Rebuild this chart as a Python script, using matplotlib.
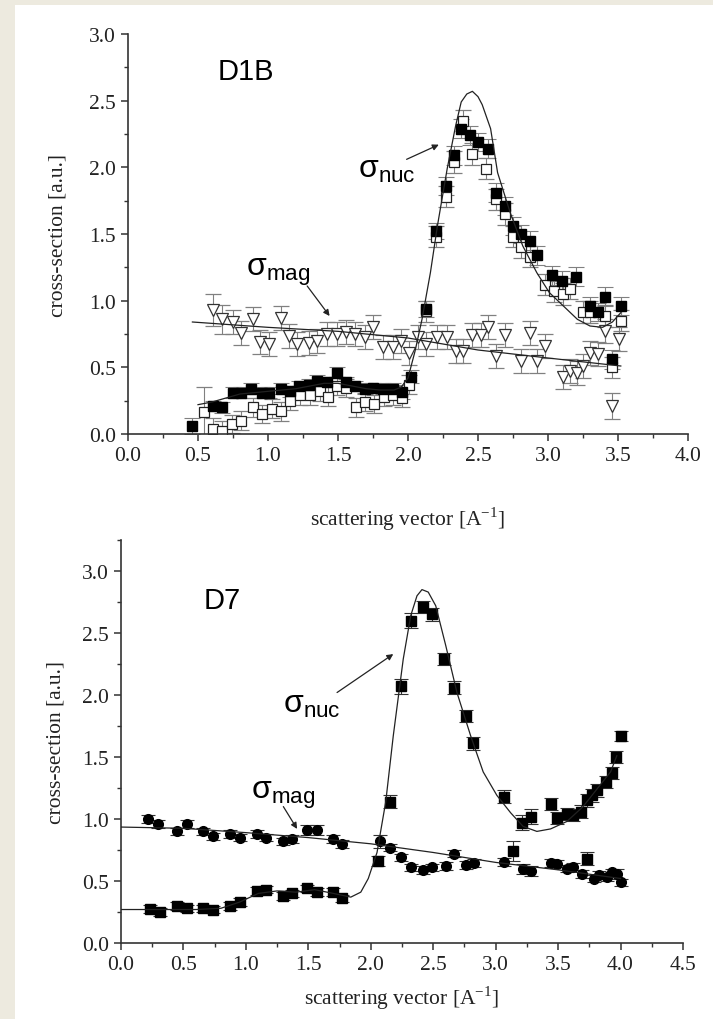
import numpy as np
import matplotlib.pyplot as plt
from matplotlib.patches import Rectangle
from matplotlib.ticker import MultipleLocator, FormatStrFormatter

# ---- D1B data ----
d1b_full_q = [0.46, 0.61, 0.67, 0.75, 0.81, 0.88, 0.96, 1.01, 1.09, 1.16, 1.22, 1.29, 1.35, 1.42,
              1.49, 1.56, 1.62, 1.69, 1.75, 1.82, 1.89, 1.96, 2.02, 2.13, 2.20, 2.27, 2.33, 2.38,
              2.44, 2.50, 2.57, 2.63, 2.69, 2.75, 2.81, 2.87, 2.92, 3.03, 3.10, 3.20, 3.30, 3.36,
              3.41, 3.46, 3.52]
d1b_full_v = [0.06, 0.21, 0.20, 0.31, 0.31, 0.34, 0.31, 0.31, 0.34, 0.32, 0.36, 0.37, 0.40, 0.39,
              0.46, 0.39, 0.36, 0.34, 0.345, 0.34, 0.34, 0.315, 0.43, 0.94, 1.52, 1.86, 2.09, 2.29,
              2.24, 2.19, 2.14, 1.81, 1.71, 1.56, 1.50, 1.45, 1.34, 1.19, 1.15, 1.18, 0.96, 0.915,
              1.03, 0.56, 0.96]
d1b_full_e = [0.06, 0.04, 0.04, 0.04, 0.04, 0.04, 0.04, 0.04, 0.04, 0.04, 0.04, 0.04, 0.04, 0.04,
              0.04, 0.04, 0.04, 0.04, 0.04, 0.04, 0.04, 0.05, 0.05, 0.06, 0.06, 0.07, 0.07, 0.07,
              0.07, 0.07, 0.07, 0.07, 0.07, 0.07, 0.07, 0.07, 0.07, 0.07, 0.07, 0.07, 0.07, 0.07,
              0.07, 0.07, 0.07]

d1b_open_q = [0.54, 0.61, 0.67, 0.74, 0.81, 0.89, 0.96, 1.03, 1.09, 1.16, 1.23, 1.30, 1.37, 1.43,
              1.49, 1.56, 1.63, 1.69, 1.76, 1.83, 1.89, 1.96, 2.01, 2.13, 2.20, 2.27, 2.33, 2.39,
              2.46, 2.56, 2.63, 2.69, 2.75, 2.81, 2.87, 2.98, 3.04, 3.11, 3.16, 3.25, 3.30, 3.41,
              3.46, 3.52]
d1b_open_v = [0.165, 0.04, 0.02, 0.075, 0.10, 0.20, 0.15, 0.19, 0.17, 0.25, 0.29, 0.29, 0.32, 0.28,
              0.36, 0.345, 0.20, 0.24, 0.225, 0.28, 0.29, 0.27, 0.37, 0.92, 1.48, 1.78, 2.04, 2.35,
              2.10, 1.99, 1.76, 1.65, 1.48, 1.40, 1.33, 1.12, 1.07, 1.05, 1.09, 0.915, 0.915, 0.885,
              0.50, 0.85]
d1b_open_e = [0.19, 0.08, 0.08, 0.07, 0.07, 0.07, 0.07, 0.07, 0.07, 0.07, 0.07, 0.07, 0.07, 0.07,
              0.07, 0.07, 0.07, 0.07, 0.07, 0.07, 0.07, 0.07, 0.07, 0.08, 0.08, 0.08, 0.08, 0.08,
              0.08, 0.08, 0.08, 0.08, 0.08, 0.08, 0.08, 0.08, 0.08, 0.08, 0.08, 0.08, 0.08, 0.08,
              0.08, 0.08]

d1b_mag_q = [0.61, 0.67, 0.75, 0.81, 0.89, 0.94, 1.01, 1.09, 1.15, 1.21, 1.29, 1.35, 1.42, 1.49,
             1.56, 1.62, 1.69, 1.75, 1.82, 1.89, 1.95, 2.01, 2.07, 2.13, 2.21, 2.28, 2.34, 2.39,
             2.46, 2.52, 2.57, 2.63, 2.69, 2.81, 2.87, 2.92, 2.98, 3.11, 3.16, 3.21, 3.25, 3.30,
             3.36, 3.41, 3.46, 3.51]
d1b_mag_v = [0.93, 0.86, 0.84, 0.76, 0.86, 0.69, 0.675, 0.87, 0.735, 0.675, 0.68, 0.70, 0.75, 0.75,
             0.765, 0.75, 0.73, 0.80, 0.65, 0.65, 0.70, 0.61, 0.73, 0.675, 0.73, 0.73, 0.62, 0.62,
             0.74, 0.74, 0.80, 0.585, 0.74, 0.55, 0.76, 0.55, 0.66, 0.43, 0.47, 0.46, 0.51, 0.61,
             0.60, 0.77, 0.21, 0.71]
d1b_mag_e = [0.12, 0.11, 0.09, 0.09, 0.09, 0.09, 0.09, 0.09, 0.09, 0.09, 0.09, 0.09, 0.09, 0.09,
             0.09, 0.09, 0.09, 0.09, 0.09, 0.09, 0.09, 0.09, 0.09, 0.09, 0.09, 0.09, 0.09, 0.09,
             0.09, 0.09, 0.09, 0.09, 0.09, 0.09, 0.09, 0.09, 0.09, 0.09, 0.09, 0.09, 0.09, 0.09,
             0.09, 0.09, 0.10, 0.09]

d1b_fit_q = [0.50, 0.60, 0.70, 0.80, 0.90, 1.00, 1.10, 1.20, 1.30, 1.40, 1.50, 1.60, 1.70, 1.80,
             1.90, 1.95, 2.00, 2.05, 2.10, 2.16, 2.21, 2.28, 2.34, 2.38, 2.42, 2.46, 2.50, 2.53,
             2.59, 2.64, 2.73, 2.82, 2.92, 3.01, 3.11, 3.21, 3.30, 3.39, 3.46, 3.52]
d1b_fit_v = [0.22, 0.24, 0.27, 0.30, 0.31, 0.32, 0.33, 0.34, 0.36, 0.38, 0.38, 0.36, 0.34, 0.33,
             0.33, 0.35, 0.42, 0.62, 0.86, 1.21, 1.56, 1.99, 2.31, 2.49, 2.55, 2.57, 2.53, 2.47,
             2.29, 1.96, 1.66, 1.41, 1.21, 1.06, 0.96, 0.86, 0.81, 0.80, 0.84, 0.91]

d1b_magfit_q = [0.46, 1.0, 1.5, 2.0, 2.5, 3.0, 3.52]
d1b_magfit_v = [0.84, 0.80, 0.77, 0.72, 0.63, 0.57, 0.51]

# ---- D7 data ----
d7_mag_q = [0.22, 0.30, 0.45, 0.53, 0.66, 0.74, 0.87, 0.95, 1.09, 1.16, 1.30, 1.37, 1.49, 1.57,
            1.70, 1.77, 2.07, 2.15, 2.24, 2.32, 2.42, 2.49, 2.60, 2.67, 2.76, 2.83, 3.07, 3.22,
            3.28, 3.44, 3.49, 3.57, 3.62, 3.69, 3.79, 3.83, 3.89, 3.93, 3.97, 4.00]
d7_mag_v = [1.00, 0.96, 0.90, 0.96, 0.90, 0.86, 0.88, 0.85, 0.88, 0.85, 0.82, 0.84, 0.91, 0.91,
            0.84, 0.80, 0.82, 0.77, 0.69, 0.61, 0.59, 0.61, 0.62, 0.72, 0.63, 0.645, 0.655, 0.60,
            0.58, 0.645, 0.64, 0.60, 0.615, 0.555, 0.52, 0.55, 0.53, 0.57, 0.555, 0.49]
d7_mag_e = [0.03, 0.03, 0.03, 0.03, 0.03, 0.03, 0.03, 0.03, 0.03, 0.03, 0.03, 0.03, 0.04, 0.04,
            0.03, 0.03, 0.05, 0.03, 0.03, 0.03, 0.03, 0.03, 0.03, 0.03, 0.03, 0.03, 0.03, 0.04,
            0.04, 0.03, 0.03, 0.03, 0.03, 0.03, 0.03, 0.03, 0.03, 0.03, 0.04, 0.03]

d7_nuc_q = [0.23, 0.31, 0.45, 0.53, 0.66, 0.74, 0.87, 0.95, 1.09, 1.16, 1.30, 1.37, 1.49, 1.57,
            1.70, 1.77, 2.06, 2.15, 2.24, 2.32, 2.42, 2.49, 2.59, 2.67, 2.76, 2.82, 3.07, 3.14,
            3.21, 3.28, 3.44, 3.49, 3.57, 3.62, 3.68, 3.73, 3.73, 3.77, 3.81, 3.88, 3.93, 3.96, 4.00]
d7_nuc_v = [0.275, 0.25, 0.30, 0.28, 0.28, 0.27, 0.30, 0.33, 0.42, 0.43, 0.38, 0.40, 0.44, 0.41,
            0.41, 0.36, 0.66, 1.14, 2.07, 2.60, 2.71, 2.65, 2.29, 2.06, 1.83, 1.61, 1.18, 0.74,
            0.97, 1.02, 1.12, 1.01, 1.04, 1.03, 1.06, 1.15, 0.68, 1.19, 1.23, 1.30, 1.37, 1.50, 1.67]
d7_nuc_e = [0.03, 0.03, 0.03, 0.03, 0.03, 0.03, 0.03, 0.03, 0.03, 0.03, 0.03, 0.03, 0.03, 0.03,
            0.03, 0.03, 0.04, 0.05, 0.06, 0.06, 0.05, 0.05, 0.05, 0.05, 0.05, 0.05, 0.05, 0.08,
            0.06, 0.06, 0.05, 0.05, 0.05, 0.05, 0.05, 0.05, 0.05, 0.05, 0.05, 0.05, 0.05, 0.05, 0.04]

d7_fit_q = [0.0, 0.30, 0.60, 0.80, 0.95, 1.10, 1.25, 1.40, 1.55, 1.70, 1.84, 1.92, 1.98, 2.05,
            2.12, 2.18, 2.26, 2.32, 2.37, 2.41, 2.46, 2.52, 2.60, 2.69, 2.80, 2.90, 3.01, 3.12,
            3.22, 3.33, 3.44, 3.57, 3.70, 3.81, 3.92, 3.97]
d7_fit_v = [0.27, 0.27, 0.27, 0.28, 0.33, 0.40, 0.42, 0.41, 0.43, 0.40, 0.37, 0.41, 0.52, 0.73,
            1.14, 1.67, 2.29, 2.64, 2.80, 2.85, 2.83, 2.72, 2.40, 2.02, 1.67, 1.38, 1.19, 1.05,
            0.94, 0.90, 0.92, 0.98, 1.10, 1.24, 1.38, 1.51]

d7_magfit_q = [0.0, 0.5, 1.0, 1.5, 2.0, 2.5, 3.0, 3.5, 4.0]
d7_magfit_v = [0.935, 0.925, 0.89, 0.85, 0.80, 0.73, 0.65, 0.59, 0.52]

plt.rcParams['font.family'] = ['Liberation Serif', 'DejaVu Serif']

fig = plt.figure(figsize=(7.13, 10.2), dpi=100)
fig.patch.set_facecolor('#edeadf')
fig.patches.append(Rectangle((15 / 713, 0), 698 / 713, 1014 / 1020, transform=fig.transFigure,
                             facecolor='white', edgecolor='none', zorder=-1))

ax1 = fig.add_axes([128 / 713, 1 - 435 / 1020, 560 / 713, 400 / 1020])
ax2 = fig.add_axes([121 / 713, 1 - 944 / 1020, 562 / 713, 403 / 1020])


def style(ax, xmax, ymax):
    ax.set_xlim(0, xmax)
    ax.set_ylim(0, ymax)
    ax.set_facecolor('none')
    for s in ['top', 'right']:
        ax.spines[s].set_visible(False)
    for s in ['left', 'bottom']:
        ax.spines[s].set_linewidth(1.2)
        ax.spines[s].set_color('#333333')
    ax.xaxis.set_major_locator(MultipleLocator(0.5))
    ax.xaxis.set_minor_locator(MultipleLocator(0.25))
    ax.yaxis.set_major_locator(MultipleLocator(0.5))
    ax.yaxis.set_minor_locator(MultipleLocator(0.25))
    ax.xaxis.set_major_formatter(FormatStrFormatter('%.1f'))
    ax.yaxis.set_major_formatter(FormatStrFormatter('%.1f'))
    ax.tick_params(which='major', direction='out', length=5, width=1.1, color='#333333',
                   labelsize=15.5, labelcolor='#222222')
    ax.tick_params(which='minor', direction='out', length=3, width=1.0, color='#333333')
    ax.set_ylabel('cross-section [a.u.]', fontsize=15.5, color='#222222')
    ax.set_xlabel(r'scattering vector [A$^{\mathregular{-1}}$]', fontsize=15.5, color='#222222')


style(ax1, 4.0, 3.0)
style(ax2, 4.5, 3.25)
ax1.yaxis.set_label_coords(-0.108, 0.5)
ax1.xaxis.set_label_coords(0.5, -0.175)
ax2.yaxis.set_label_coords(-0.098, 0.5)
ax2.xaxis.set_label_coords(0.5, -0.1)

# D1B
eb = dict(elinewidth=0.8, capsize=6, capthick=0.8, ecolor='#808080', linestyle='none')
ax1.errorbar(d1b_mag_q, d1b_mag_v, yerr=d1b_mag_e, fmt='v', ms=8, mfc='white', mec='#333333',
             mew=0.9, **eb)
ax1.errorbar(d1b_open_q, d1b_open_v, yerr=d1b_open_e, fmt='s', ms=7, mfc='white', mec='#222222',
             mew=0.9, **eb)
ax1.errorbar(d1b_full_q, d1b_full_v, yerr=d1b_full_e, fmt='s', ms=7, mfc='black', mec='black',
             **eb)
ax1.plot(d1b_fit_q, d1b_fit_v, color='#222222', lw=0.9, zorder=4)
ax1.plot(d1b_magfit_q, d1b_magfit_v, color='#222222', lw=0.9, zorder=4)

ax1.text(0.64, 2.72, 'D1B', fontsize=21, family='Liberation Sans', va='center')
ax1.text(1.64, 1.93, r'$\mathregular{\sigma_{nuc}}$', fontsize=23, family='Liberation Sans')
ax1.text(0.84, 1.19, r'$\mathregular{\sigma_{mag}}$', fontsize=23, family='Liberation Sans')
arr = dict(arrowstyle='-|>', lw=0.9, color='#222222', mutation_scale=9, shrinkA=0, shrinkB=0)
ax1.annotate('', xy=(2.22, 2.17), xytext=(1.99, 2.06), arrowprops=arr)
ax1.annotate('', xy=(1.44, 0.885), xytext=(1.28, 1.11), arrowprops=arr)

# D7
eb2 = dict(elinewidth=0.8, capsize=5, capthick=0.8, ecolor='#333333', linestyle='none')
ax2.errorbar(d7_mag_q, d7_mag_v, yerr=d7_mag_e, fmt='o', ms=7, mfc='black', mec='black', **eb2)
ax2.errorbar(d7_nuc_q, d7_nuc_v, yerr=d7_nuc_e, fmt='s', ms=7, mfc='black', mec='black', **eb2)
ax2.plot(d7_fit_q, d7_fit_v, color='#222222', lw=0.9, zorder=4)
ax2.plot(d7_magfit_q, d7_magfit_v, color='#222222', lw=0.9, zorder=4)

ax2.text(0.66, 2.77, 'D7', fontsize=21, family='Liberation Sans', va='center')
ax2.text(1.30, 1.86, r'$\mathregular{\sigma_{nuc}}$', fontsize=23, family='Liberation Sans')
ax2.text(1.04, 1.17, r'$\mathregular{\sigma_{mag}}$', fontsize=23, family='Liberation Sans')
ax2.annotate('', xy=(2.18, 2.33), xytext=(1.73, 2.02), arrowprops=arr)
ax2.annotate('', xy=(1.41, 0.92), xytext=(1.30, 1.10), arrowprops=arr)

fig.savefig('out.png', dpi=100, facecolor=fig.get_facecolor())
